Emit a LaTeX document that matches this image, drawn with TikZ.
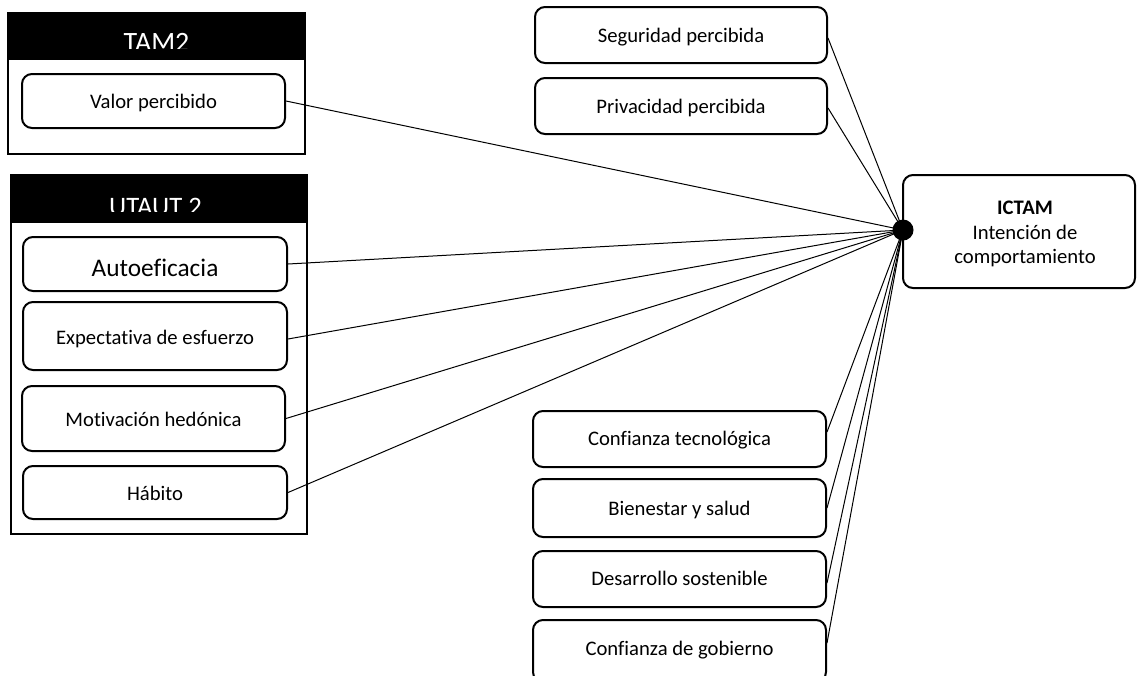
\documentclass[tikz,border=0pt]{standalone}
\usepackage{fontspec}
\setmainfont{Carlito}[Ligatures={NoCommon}]
\usetikzlibrary{calc}
\begin{document}
\begin{tikzpicture}[x=0.75pt,y=-0.75pt,
  factor/.style 2 args={draw, line width=1.5pt, rounded corners=7.5pt,
    minimum width=#1*0.75pt, minimum height=#2*0.75pt, inner sep=0pt,
    text height=11.25pt, text depth=0pt,
    align=center, font=\fontsize{15.5}{18.6}\selectfont},
  frame/.style={draw, line width=1.5pt},
  header/.style={fill=black, draw, line width=1.5pt},
  title/.style={text=white, anchor=base, inner sep=0pt},
  link/.style={line width=0.75pt},
  hub/.style={circle, fill=black, inner sep=0pt, minimum size=15.75pt}]
\useasboundingbox (0,0) rectangle (1137,675);
\clip (0,0) rectangle (1137,675);

% TAM2 group
\draw[frame] (8,13) rectangle (305,154);
\draw[header] (8,13) rectangle (305,59);
\begin{scope}
  \clip (8,13) rectangle (305,48);
  \node[title, font=\fontsize{21}{25}\selectfont] (tamtitle) at (156.5,51) {TAM2};
\end{scope}

% UTAUT 2 group
\draw[frame] (11,175) rectangle (307,534);
\draw[header] (11,175) rectangle (307,222);
\begin{scope}
  \clip (11,175) rectangle (307,211);
  \node[title, font=\fontsize{20}{24}\selectfont] (utauttitle) at (155.5,215) {UTAUT 2};
\end{scope}

% factor boxes, left side
\node[factor={263}{54}] (valor) at (153.5,101) {Valor percibido};
\node[factor={264}{54}, font=\fontsize{19}{22}\selectfont, text height=18pt] (auto) at (155,264) {Autoeficacia};
\node[factor={264}{68}, text height=13pt] (expect) at (155,336) {Expectativa de esfuerzo};
\node[factor={263}{65}] (motiv) at (153.5,418.5) {Motivación hedónica};
\node[factor={264}{53}] (habito) at (155,492.5) {Hábito};

% factor boxes, centre column
\node[factor={292}{56}] (segur) at (681,35) {Seguridad percibida};
\node[factor={292}{56}] (priv) at (681,106) {Privacidad percibida};
\node[factor={293}{56}, text height=9pt] (conftec) at (679.5,439) {Confianza tecnológica};
\node[factor={293}{58}] (bien) at (679.5,508) {Bienestar y salud};
\node[factor={293}{56}, text height=9pt] (desa) at (679.5,579) {Desarrollo sostenible};
\node[factor={293}{62}, text height=6pt] (gob) at (679.5,651) {Confianza de gobierno};

% outcome
\node[factor={232}{113}] (ictam) at (1019,231.5) {};
\node[align=center, inner sep=0pt, font=\fontsize{15.5}{18.4}\selectfont]
  (ictamtext) at (1025,234) {\textbf{ICTAM}\\Intención de\\comportamiento};

% connectors to the hub point
\coordinate (hubpt) at (903,230);
\draw[link] (valor.east) -- (hubpt);
\draw[link] (auto.east) -- (hubpt);
\draw[link] ($(expect.east)+(0,3)$) -- (hubpt);
\draw[link] (motiv.east) -- (hubpt);
\draw[link] (habito.east) -- (hubpt);
\draw[link] ($(segur.east)+(0,3)$) -- (hubpt);
\draw[link] ($(priv.east)+(0,2)$) -- (hubpt);
\draw[link] ($(conftec.east)+(0,-7)$) -- (hubpt);
\draw[link] (bien.east) -- (hubpt);
\draw[link] ($(desa.east)+(0,4)$) -- (hubpt);
\draw[link] ($(gob.east)+(0,-8)$) -- (hubpt);
\node[hub] (hub) at (hubpt) {};
\end{tikzpicture}
\end{document}
